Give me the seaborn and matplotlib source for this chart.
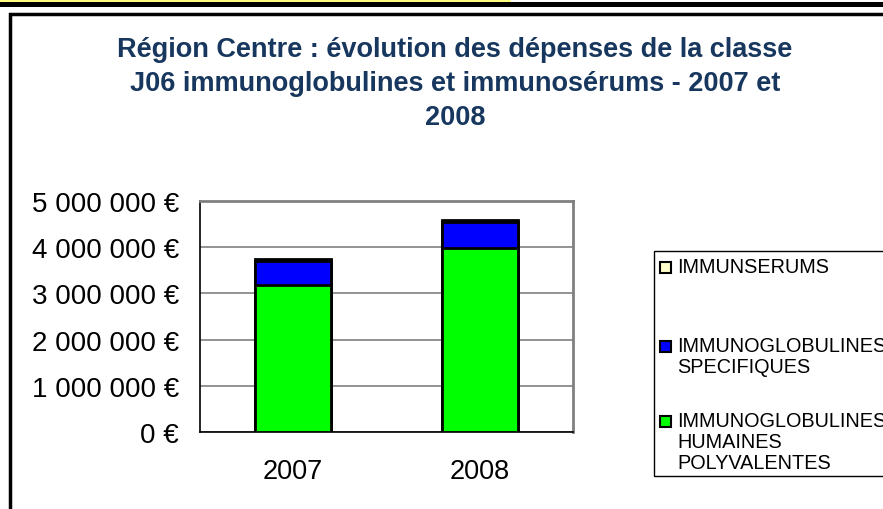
import matplotlib
matplotlib.use("Agg")
import matplotlib.pyplot as plt
from matplotlib.patches import Rectangle
from matplotlib.ticker import FuncFormatter, FixedLocator
import pandas as pd
import seaborn as sns

# Données (en euros)
years = ["2007", "2008"]
polyvalentes = [3190000, 3990000]
specifiques = [520000, 555000]
immunserums = [40000, 50000]

labels = ["IMMUNOGLOBULINES\nHUMAINES\nPOLYVALENTES",
          "IMMUNOGLOBULINES\nSPECIFIQUES",
          "IMMUNSERUMS"]
colors = ["#00FF00", "#0000FF", "#FFFFCC"]

title_lines = ["Région Centre : évolution des dépenses de la classe",
               "J06 immunoglobulines et immunosérums - 2007 et",
               "2008"]

sns.set_style("white")
plt.rcParams["font.family"] = ["Liberation Sans", "DejaVu Sans"]

W, H = 883, 510
fig = plt.figure(figsize=(W / 100, H / 100), dpi=100)


def px(x, y):
    # pixels (origine en haut à gauche) -> coordonnées figure
    return x / W, 1 - y / H


# Bandeau en haut de la page et cadre du graphique
fig.patches.append(Rectangle(px(0, 3), 511 / W, 3 / H, transform=fig.transFigure,
                             facecolor="#FFFF80", edgecolor="none", zorder=-2))
fig.patches.append(Rectangle(px(0, 8), 1, 5 / H, transform=fig.transFigure,
                             facecolor="black", edgecolor="none", zorder=-2))
fig.patches.append(Rectangle((10 / W, -0.1), 1.2, 1 - 15 / H + 0.1, transform=fig.transFigure,
                             facecolor="none", edgecolor="black", linewidth=2.5, zorder=-1))

ax = fig.add_axes([200 / W, (H - 433) / H, 373 / W, 231 / H])

# Barres empilées : on dessine les cumuls du plus grand au plus petit
df = pd.DataFrame({"year": years,
                   "poly": polyvalentes,
                   "spec": specifiques,
                   "serum": immunserums})
df["c1"] = df["poly"]
df["c2"] = df["poly"] + df["spec"]
df["c3"] = df["c2"] + df["serum"]

for col, color in zip(["c3", "c2", "c1"], colors[::-1]):
    sns.barplot(data=df, x="year", y=col, color=color, width=0.41,
                edgecolor="black", linewidth=2, saturation=1, ax=ax, zorder=3)

ax.set_ylim(0, 5000000)
ax.set_xlim(-0.5, 1.5)
ax.yaxis.set_major_locator(FixedLocator(range(0, 5000001, 1000000)))
ax.yaxis.set_major_formatter(FuncFormatter(lambda v, p: f"{int(v):,} €".replace(",", " ")))
ax.grid(axis="y", color="#808080", linewidth=1.2, zorder=0)
ax.set_xlabel("")
ax.set_ylabel("")

ax.set_xticks([-0.5, 0.5, 1.5], minor=True)
ax.tick_params(axis="x", which="major", length=0, labelsize=19.5, pad=19, labelcolor="black")
ax.tick_params(axis="x", which="minor", length=6, width=1, color="black", direction="out")
ax.tick_params(axis="y", length=6, width=1, color="black", direction="out", labelsize=20, pad=9,
               labelcolor="black")

for side in ["left", "bottom"]:
    ax.spines[side].set_color("black")
    ax.spines[side].set_linewidth(1.2)
for side in ["top", "right"]:
    ax.spines[side].set_color("#808080")
    ax.spines[side].set_linewidth(2)

# Titre : trois lignes centrées sur la zone du graphique
for line, yc in zip(title_lines, [50, 84, 118]):
    fig.text(*px(455, yc), line, ha="center", va="center", fontsize=19.5,
             fontweight="bold", color="#17375E")

# Légende façon Excel : case alignée sur la première ligne du libellé
fig.patches.append(Rectangle(px(654, 477), 0.5, 225 / H, transform=fig.transFigure,
                             facecolor="white", edgecolor="black", linewidth=1, zorder=1))
for label, color, y0 in zip(labels[::-1], colors[::-1], [268, 347, 422]):
    fig.patches.append(Rectangle(px(660, y0 + 6), 11 / W, 11 / H, transform=fig.transFigure,
                                 facecolor=color, edgecolor="black", linewidth=1.5, zorder=2))
    fig.text(*px(677, y0 - 10), label, ha="left", va="top", fontsize=14.3,
             color="black", linespacing=1.15, zorder=3)

fig.savefig("out.png", dpi=100)
